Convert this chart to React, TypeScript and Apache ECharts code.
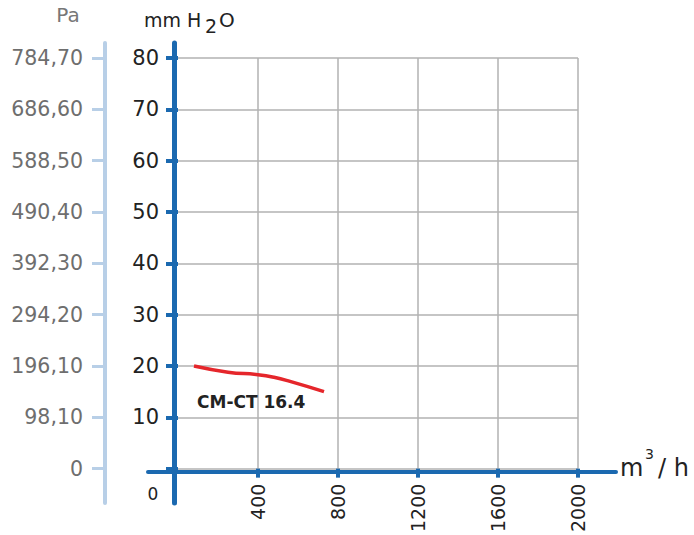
import React, { useEffect, useRef } from 'react';
import * as echarts from 'echarts';

// Data
const flowTicks = [0, 400, 800, 1200, 1600, 2000];
const mmTicks = [0, 10, 20, 30, 40, 50, 60, 70, 80];
const paLabels = ['0', '98,10', '196,10', '294,20', '392,30', '490,40', '588,50', '686,60', '784,70'];
const curveFlow = [80, 250, 400, 480, 560, 730];
const curvePressure = [20, 18.8, 18.3, 17.8, 17.0, 15.0];
const seriesName = 'CM-CT 16.4';

const FONT = '"DejaVu Sans", "Liberation Sans", Arial, sans-serif';
const BLUE = '#1b69b0';
const PA_BLUE = '#b8cfe7';
const GRID_GRAY = '#b2b2b2';

export default function App() {
  const ref = useRef<HTMLDivElement>(null);
  useEffect(() => {
    if (!ref.current) return;
    const chart = echarts.init(ref.current, null, { renderer: 'svg' });
    const hiddenAxis = (gridIndex: number) => ({ gridIndex, type: 'value', show: false });
    const lineOnly = (gridIndex: number, color: string, width: number) => ({
      gridIndex,
      type: 'value',
      min: 0,
      max: 1,
      axisLine: { show: true, onZero: false, lineStyle: { color, width } },
      axisTick: { show: false },
      axisLabel: { show: false },
      splitLine: { show: false },
    });
    const txt = (text: string, x: number, y: number, size: number, fill: string, align = 'left', weight = 'normal') => ({
      type: 'text',
      x,
      y,
      z: 10,
      style: {
        text,
        fontSize: size,
        fontFamily: FONT,
        fontWeight: weight,
        fill,
        align,
        verticalAlign: 'middle',
      },
    });
    chart.setOption({
      animation: false,
      backgroundColor: '#ffffff',
      textStyle: { fontFamily: FONT },
      grid: [
        { left: 178, right: 116, top: 58, bottom: 63 },
        { left: 174, width: 1, top: 43, bottom: 32 },
        { left: 148, right: 78, top: 300, bottom: 63 },
        { left: 105, width: 1, top: 43, bottom: 32 },
      ],
      xAxis: [
        {
          gridIndex: 0,
          type: 'value',
          min: flowTicks[0],
          max: flowTicks[flowTicks.length - 1],
          interval: 400,
          axisLine: { show: false },
          axisTick: { show: true, length: 9, customValues: flowTicks.slice(1), lineStyle: { color: BLUE, width: 4 } },
          axisLabel: {
            rotate: 90,
            margin: 15,
            fontSize: 19,
            color: '#222',
            fontFamily: FONT,
            customValues: flowTicks.slice(1),
            formatter: (v: number) => (v === 0 ? '' : String(v)),
          },
          splitLine: { show: true, lineStyle: { color: GRID_GRAY, width: 1.5 } },
        },
        hiddenAxis(1),
        lineOnly(2, BLUE, 4),
        hiddenAxis(3),
      ],
      yAxis: [
        {
          gridIndex: 0,
          type: 'value',
          min: mmTicks[0],
          max: mmTicks[mmTicks.length - 1],
          interval: 10,
          offset: 4,
          axisLine: { show: false },
          axisTick: { show: true, length: 12, lineStyle: { color: BLUE, width: 4 } },
          axisLabel: {
            margin: 15,
            fontSize: 21,
            color: '#222',
            fontFamily: FONT,
            formatter: (v: number) => (v === 0 ? '' : String(v)),
          },
          splitLine: { show: true, lineStyle: { color: GRID_GRAY, width: 1.5 } },
        },
        {
          gridIndex: 0,
          type: 'value',
          position: 'left',
          offset: 73,
          min: mmTicks[0],
          max: mmTicks[mmTicks.length - 1],
          interval: 10,
          axisLine: { show: false },
          axisTick: { show: true, length: 13, lineStyle: { color: PA_BLUE, width: 3 } },
          axisLabel: {
            margin: 22,
            fontSize: 20.5,
            color: '#6e6e6e',
            fontFamily: FONT,
            formatter: (v: number) => paLabels[Math.round(v / 10)] ?? '',
          },
          splitLine: { show: false },
        },
        lineOnly(1, BLUE, 5),
        hiddenAxis(2),
        lineOnly(3, PA_BLUE, 4),
      ],
      series: [
        {
          name: seriesName,
          type: 'line',
          xAxisIndex: 0,
          yAxisIndex: 0,
          data: curveFlow.map((f, i) => [f, curvePressure[i]]),
          smooth: 0.5,
          showSymbol: false,
          lineStyle: { color: '#e5262b', width: 3.5 },
          z: 5,
        },
      ],
      graphic: [
        txt('Pa', 68, 15, 20, '#777', 'center'),
        txt('mm H', 144, 20, 19, '#222'),
        txt('2', 205, 26, 19, '#222'),
        txt('O', 219, 20, 20, '#222'),
        txt('m', 620, 468, 24, '#222'),
        txt('3', 645, 454, 14, '#222'),
        txt('/ h', 658, 468, 24, '#222'),
        txt('0', 153, 494, 17, '#222', 'center'),
        txt(seriesName, 197, 402, 17, '#222', 'left', 'bold'),
      ],
    });
    return () => chart.dispose();
  }, []);
  return <div ref={ref} style={{ position: 'fixed', left: 0, top: 0, width: 694, height: 535 }} />;
}
